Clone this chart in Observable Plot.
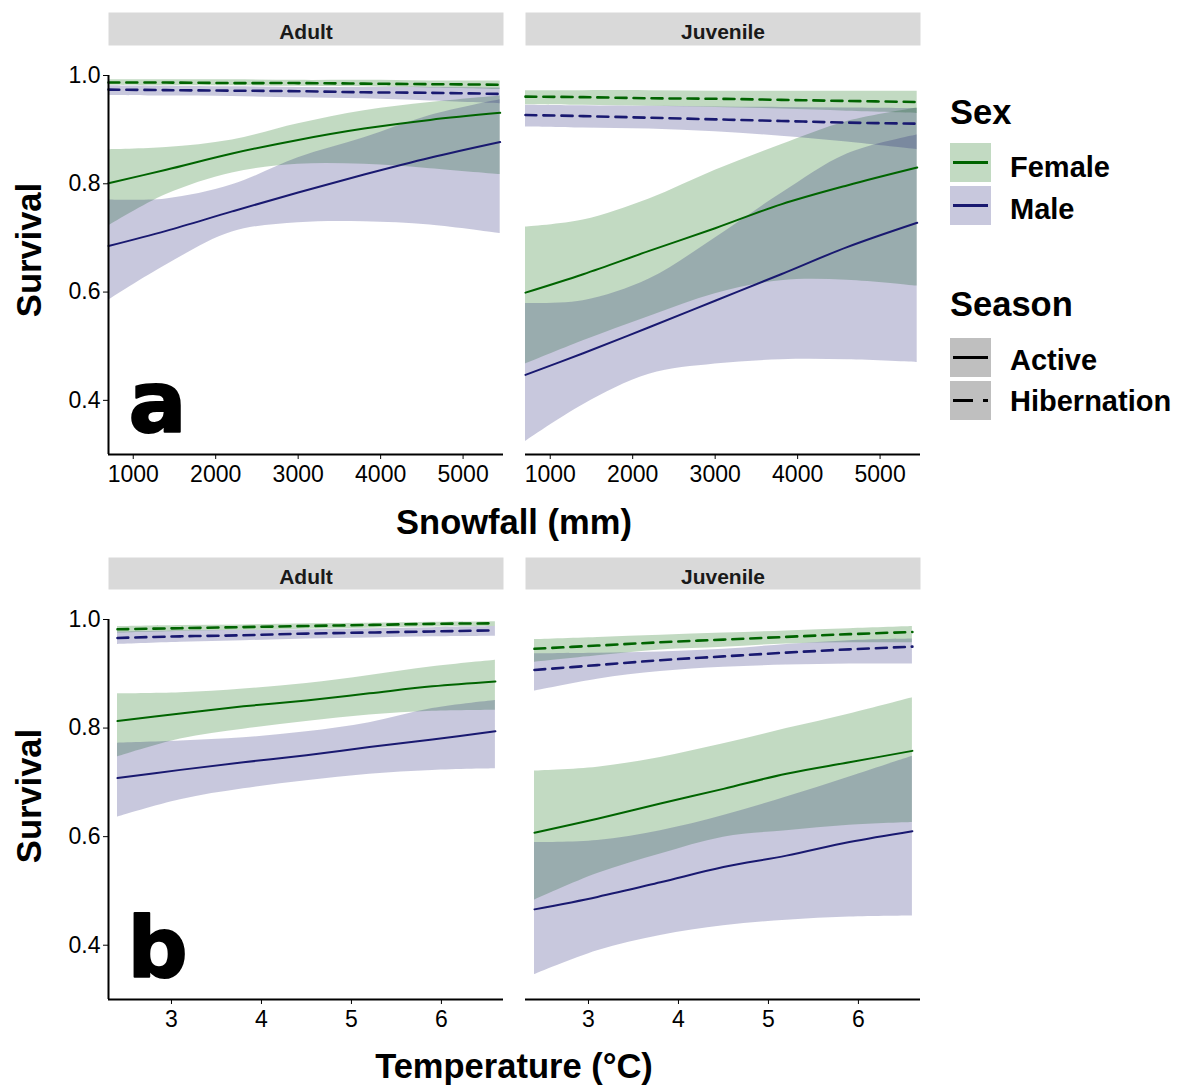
<!DOCTYPE html>
<html><head><meta charset="utf-8">
<script src="https://cdn.jsdelivr.net/npm/d3@7"></script>
<script src="https://cdn.jsdelivr.net/npm/@observablehq/plot@0.6"></script>
<style>
html,body{margin:0;padding:0;background:#fff;}
#root{position:relative;width:1180px;height:1086px;overflow:hidden;font-family:"Liberation Sans",Arial,sans-serif;}
#root > svg, #root > div{position:absolute;left:0;}
</style></head><body><div id="root"></div>
<script>
// ---------- categories & ticks ----------
const ages = ["Adult", "Juvenile"];
const sexes = ["Female", "Male"];
const seasons = ["Active", "Hibernation"];
const sexColors = ["#006400", "#191970"];
const snowTicks = [1000, 2000, 3000, 4000, 5000];
const tempTicks = [3, 4, 5, 6];
const survivalTicks = [0.4, 0.6, 0.8, 1.0];

// ---------- x grids ----------
const snowX = [700, 1400, 2200, 3000, 3800, 4600, 5450];
const tempX = [2.4, 3.1, 3.8, 4.5, 5.2, 5.9, 6.6];

// ---------- values: each entry [fit, lower, upper] ----------
// (a) Snowfall
const snowAdultFemaleActive = [[0.801,0.722,0.863],[0.826,0.780,0.867],[0.856,0.820,0.881],[0.881,0.836,0.911],[0.902,0.836,0.935],[0.918,0.828,0.950],[0.931,0.817,0.962]];
const snowAdultMaleActive   = [[0.685,0.585,0.770],[0.713,0.650,0.772],[0.749,0.711,0.798],[0.784,0.728,0.848],[0.817,0.730,0.885],[0.848,0.724,0.926],[0.877,0.708,0.955]];
const snowAdultFemaleHib    = [[0.987,0.982,0.992],[0.987,0.981,0.992],[0.986,0.981,0.992],[0.986,0.980,0.991],[0.985,0.979,0.991],[0.984,0.977,0.990],[0.983,0.974,0.990]];
const snowAdultMaleHib      = [[0.974,0.963,0.981],[0.973,0.962,0.980],[0.972,0.961,0.979],[0.971,0.959,0.978],[0.969,0.957,0.978],[0.968,0.953,0.978],[0.966,0.948,0.977]];
const snowJuvFemaleActive   = [[0.599,0.467,0.720],[0.633,0.510,0.733],[0.676,0.555,0.772],[0.718,0.597,0.825],[0.762,0.621,0.872],[0.797,0.622,0.915],[0.830,0.611,0.940]];
const snowJuvMaleActive     = [[0.447,0.324,0.579],[0.487,0.392,0.584],[0.535,0.448,0.624],[0.584,0.467,0.700],[0.633,0.475,0.782],[0.683,0.475,0.855],[0.728,0.470,0.890]];
const snowJuvFemaleHib      = [[0.961,0.946,0.972],[0.960,0.945,0.972],[0.958,0.943,0.972],[0.957,0.941,0.971],[0.955,0.938,0.971],[0.953,0.934,0.971],[0.951,0.930,0.971]];
const snowJuvMaleHib        = [[0.927,0.905,0.945],[0.925,0.903,0.944],[0.922,0.901,0.943],[0.919,0.896,0.942],[0.916,0.888,0.941],[0.913,0.877,0.940],[0.911,0.863,0.939]];
// (b) Temperature
const tempAdultFemaleActive = [[0.813,0.747,0.863],[0.827,0.780,0.865],[0.840,0.798,0.872],[0.851,0.812,0.882],[0.864,0.824,0.897],[0.877,0.831,0.913],[0.886,0.833,0.925]];
const tempAdultMaleActive   = [[0.708,0.636,0.772],[0.723,0.668,0.776],[0.737,0.688,0.782],[0.750,0.703,0.793],[0.765,0.715,0.810],[0.779,0.722,0.836],[0.794,0.725,0.851]];
const tempAdultFemaleHib    = [[0.982,0.975,0.987],[0.984,0.978,0.989],[0.986,0.980,0.990],[0.988,0.982,0.992],[0.990,0.984,0.993],[0.992,0.986,0.995],[0.993,0.987,0.996]];
const tempAdultMaleHib      = [[0.966,0.954,0.977],[0.969,0.958,0.979],[0.971,0.961,0.980],[0.974,0.964,0.981],[0.976,0.966,0.983],[0.978,0.968,0.985],[0.980,0.969,0.987]];
const tempJuvFemaleActive   = [[0.607,0.483,0.721],[0.633,0.532,0.728],[0.661,0.568,0.746],[0.688,0.599,0.771],[0.716,0.611,0.799],[0.737,0.621,0.826],[0.758,0.626,0.856]];
const tempJuvMaleActive     = [[0.466,0.346,0.589],[0.489,0.390,0.593],[0.516,0.418,0.611],[0.544,0.436,0.639],[0.565,0.446,0.673],[0.590,0.452,0.710],[0.610,0.454,0.748]];
const tempJuvFemaleHib      = [[0.946,0.921,0.963],[0.952,0.933,0.967],[0.958,0.944,0.971],[0.963,0.949,0.975],[0.968,0.955,0.979],[0.973,0.957,0.983],[0.977,0.957,0.987]];
const tempJuvMaleHib        = [[0.907,0.868,0.937],[0.916,0.890,0.938],[0.925,0.904,0.940],[0.932,0.912,0.945],[0.939,0.916,0.954],[0.945,0.918,0.961],[0.950,0.918,0.964]];

const snowSeries = {
  Adult:    {Female: {Active: snowAdultFemaleActive, Hibernation: snowAdultFemaleHib}, Male: {Active: snowAdultMaleActive, Hibernation: snowAdultMaleHib}},
  Juvenile: {Female: {Active: snowJuvFemaleActive,   Hibernation: snowJuvFemaleHib},   Male: {Active: snowJuvMaleActive,   Hibernation: snowJuvMaleHib}}
};
const tempSeries = {
  Adult:    {Female: {Active: tempAdultFemaleActive, Hibernation: tempAdultFemaleHib}, Male: {Active: tempAdultMaleActive, Hibernation: tempAdultMaleHib}},
  Juvenile: {Female: {Active: tempJuvFemaleActive,   Hibernation: tempJuvFemaleHib},   Male: {Active: tempJuvMaleActive,   Hibernation: tempJuvMaleHib}}
};

function buildRows(xs, series) {
  const rows = [];
  for (const age of ages) for (const sex of sexes) for (const season of seasons) {
    series[age][sex][season].forEach((v, i) => rows.push({age, sex, season, x: xs[i], fit: v[0], lo: v[1], hi: v[2]}));
  }
  return rows;
}

// ---------- layout ----------
const W = 1180, panelLeft = 108, panelRight = 920;
const panelW = 395, gap = 22;
const fxPad = gap / (panelW + gap);
const curve = "catmull-rom";
const baseStyle = {fontFamily: '"Liberation Sans", Arial, sans-serif', fontSize: "23px", color: "#000", background: "transparent", overflow: "visible"};
const fxScale = {domain: ages, paddingInner: fxPad, paddingOuter: 0, round: false, axis: null, label: null};

function stripPlot(h) {
  return Plot.plot({
    width: W, height: h, marginLeft: panelLeft, marginRight: W - panelRight, marginTop: 0, marginBottom: 0,
    style: baseStyle, fx: fxScale,
    marks: [
      Plot.frame({fill: "#d9d9d9"}),
      Plot.text(ages, {fx: d => d, text: d => d, frameAnchor: "middle", fontSize: 21, fontWeight: "bold", fill: "#1a1a1a", dy: 3.5})
    ]
  });
}

function panelPlot(rows, xDomain, xTicks, h, letter, letterFont, letterDx) {
  const mb = 45;
  return Plot.plot({
    width: W, height: h + mb, marginLeft: panelLeft, marginRight: W - panelRight, marginTop: 0, marginBottom: mb,
    style: baseStyle, fx: fxScale,
    x: {domain: xDomain},
    y: {domain: [0.3, 1.0]},
    color: {domain: sexes, range: sexColors},
    marks: [
      Plot.areaY(rows, {fx: "age", x: "x", y1: "lo", y2: "hi", z: d => d.sex + d.season, fill: "sex", fillOpacity: 0.24, curve}),
      Plot.line(rows.filter(d => d.season === "Active"), {fx: "age", x: "x", y: "fit", z: "sex", stroke: "sex", strokeWidth: 2, curve}),
      Plot.line(rows.filter(d => d.season === "Hibernation"), {fx: "age", x: "x", y: "fit", z: "sex", stroke: "sex", strokeWidth: 2.6, strokeDasharray: "11,7", curve}),
      Plot.ruleY([0.3], {strokeWidth: 2, stroke: "#000"}),
      Plot.ruleX([{age: "Adult", x: xDomain[0]}], {fx: "age", x: "x", strokeWidth: 2, stroke: "#000"}),
      Plot.axisX({ticks: xTicks, tickFormat: "d", tickSize: 5, tickPadding: 6, label: null, fontSize: 23}),
      Plot.axisY({ticks: survivalTicks, tickFormat: ".1f", tickSize: 5, tickPadding: 3, label: null, fontSize: 23}),
      Plot.text([{age: "Adult", label: letter}], {fx: "age", text: "label", frameAnchor: "bottom-left", textAnchor: "start", lineAnchor: "bottom",
        dx: letterDx, dy: -23, fontSize: letterFont, fontWeight: "bold", fontFamily: '"DejaVu Sans", sans-serif', fill: "#000", stroke: "#000", strokeWidth: 2})
    ]
  });
}

const root = document.getElementById("root");
function place(el, top) { el.style.position = "absolute"; el.style.top = top + "px"; el.style.left = "0px"; root.appendChild(el); }

place(stripPlot(33), 12);
place(panelPlot(buildRows(snowX, snowSeries), [700, 5490], snowTicks, 379, "a", 86, 20), 75);
place(stripPlot(32), 557);
place(panelPlot(buildRows(tempX, tempSeries), [2.30, 6.69], tempTicks, 380, "b", 84, 19), 619);

// ---------- titles & legend ----------
const ns = "http://www.w3.org/2000/svg";
let legend = "";
legend += `<text x="950" y="124" font-size="34.5">Sex</text>`;
sexes.forEach((s, i) => {
  const y0 = 143 + i * 43;
  legend += `<rect x="950" y="${y0}" width="41" height="39" fill="${sexColors[i]}" fill-opacity="0.24"/>`;
  legend += `<line x1="953" x2="988" y1="${y0 + 19.5}" y2="${y0 + 19.5}" stroke="${sexColors[i]}" stroke-width="3"/>`;
  legend += `<text x="1010" y="${[177, 219][i]}" font-size="29">${s}</text>`;
});
legend += `<text x="950" y="316" font-size="34.5">Season</text>`;
seasons.forEach((s, i) => {
  const y0 = 338 + i * 43;
  legend += `<rect x="950" y="${y0}" width="41" height="39" fill="#bfbfbf"/>`;
  legend += `<line x1="953" x2="988" y1="${y0 + 19.5}" y2="${y0 + 19.5}" stroke="#000" stroke-width="3" ${i === 1 ? 'stroke-dasharray="20,10"' : ''}/>`;
  legend += `<text x="1010" y="${[370, 411][i]}" font-size="29">${s}</text>`;
});

const overlay = document.createElement("div");
overlay.innerHTML = `<svg xmlns="${ns}" width="1180" height="1086" font-family="Liberation Sans, Arial, sans-serif" font-weight="bold" fill="#000">
  <text transform="translate(41,250) rotate(-90)" text-anchor="middle" font-size="34.5">Survival</text>
  <text transform="translate(41,796) rotate(-90)" text-anchor="middle" font-size="34.5">Survival</text>
  <text x="514" y="534" text-anchor="middle" font-size="34.5">Snowfall (mm)</text>
  <text x="514" y="1078" text-anchor="middle" font-size="34.5">Temperature (°C)</text>
  ${legend}
</svg>`;
overlay.style.position = "absolute"; overlay.style.top = "0px"; overlay.style.left = "0px"; overlay.style.pointerEvents = "none";
root.appendChild(overlay);
</script>
</body></html>
